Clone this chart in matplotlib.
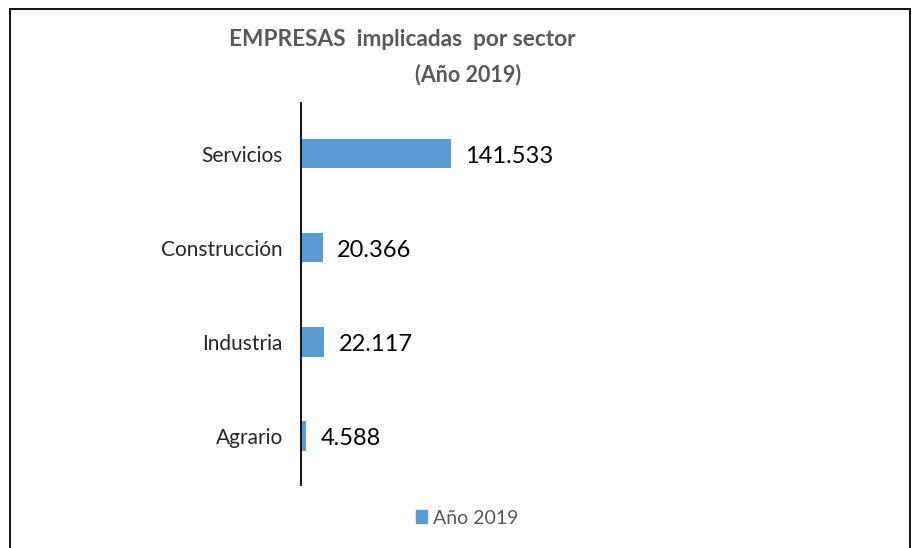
import matplotlib.pyplot as plt
from matplotlib.patches import Rectangle, Patch

plt.rcParams['font.family'] = ['Lato', 'DejaVu Sans']

sectores = ['Agrario', 'Industria', 'Construcción', 'Servicios']
empresas = [4588, 22117, 20366, 141533]
etiquetas = ['4.588', '22.117', '20.366', '141.533']
serie = 'Año 2019'

W, H = 913, 548
fig = plt.figure(figsize=(W / 100, H / 100), dpi=100)

# marco exterior
fig.patches.append(Rectangle((10 / W, -0.05), 900 / W, 1 - 9 / H + 0.05,
                             transform=fig.transFigure, fill=False,
                             edgecolor='black', linewidth=1.3))

ax = fig.add_axes([301 / W, 1 - 485 / H, 579 / W, (485 - 103) / H])
x_max = 141533 * 579 / 150
bars = ax.barh(range(len(sectores)), empresas, height=0.31, color='#5B9BD5')
ax.set_xlim(0, x_max)
ax.set_ylim(-0.52, 3.54)

for b, t in zip(bars, etiquetas):
    ax.text(b.get_width() + x_max * 0.025, b.get_y() + b.get_height() / 2 - 0.03, t,
            va='center', ha='left', fontsize=17, color='black')

ax.set_yticks(range(len(sectores)))
ax.set_yticklabels(sectores, fontsize=15, color='#262626')
ax.tick_params(axis='y', length=0, pad=13)
ax.set_xticks([])
for s in ['top', 'right', 'bottom']:
    ax.spines[s].set_visible(False)
ax.spines['left'].set_linewidth(1.3)

fig.text(402 / W, 1 - 40 / H, 'EMPRESAS  implicadas  por sector', ha='center', va='center',
         fontsize=16.3, fontweight='bold', color='#595959')
fig.text(468 / W, 1 - 75 / H, '(Año 2019)', ha='center', va='center',
         fontsize=15.5, fontweight='bold', color='#595959')

fig.legend(handles=[Patch(color='#5B9BD5', label=serie)], loc='center',
           bbox_to_anchor=(467 / W, 1 - 518 / H), frameon=False, fontsize=14,
           handlelength=0.6, handleheight=0.6, handletextpad=0.3, labelcolor='#595959')

fig.savefig('out.png', dpi=100)
